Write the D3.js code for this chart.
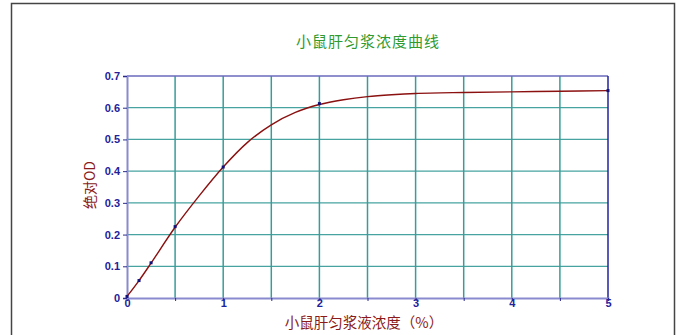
<!DOCTYPE html>
<html lang="zh">
<head>
    <meta charset="utf-8">
    <title>小鼠肝匀浆浓度曲线</title>
    <script src="https://d3js.org/d3.v7.min.js"></script>
    <style>
        body { margin: 0; background: #fff; }
        text { font-family: "Liberation Sans", Arial, sans-serif; }
        .cjk { font-family: "Noto Sans CJK SC", sans-serif; }
    </style>
</head>
<body>
<div id="chart"></div>
<script>
    // Measured points (concentration %, absolute OD)
    const pointX = [0, 0.125, 0.25, 0.5, 1, 2, 5];
    const pointY = [0.005, 0.055, 0.111, 0.225, 0.413, 0.613, 0.654];

    // Fitted curve
    const curveX = [0, 0.125, 0.25, 0.5, 0.75, 1, 1.25, 1.5, 1.75, 2, 2.25, 2.5, 2.75, 3, 3.5, 4, 4.5, 5];
    const curveY = [0.005, 0.055, 0.11, 0.223, 0.322, 0.413, 0.49, 0.546, 0.585, 0.61, 0.625, 0.635, 0.641, 0.645, 0.648, 0.65, 0.652, 0.654];

    const xTicks = [0, 1, 2, 3, 4, 5];
    const xGrid = [0.5, 1, 1.5, 2, 2.5, 3, 3.5, 4, 4.5];
    const yTicks = [0, 0.1, 0.2, 0.3, 0.4, 0.5, 0.6, 0.7];

    const W = 679, H = 335;
    const margin = {top: 76, right: 71, bottom: 37, left: 127};
    const width = W - margin.left - margin.right,
        height = H - margin.top - margin.bottom;

    const svg = d3.select("#chart")
        .append("svg")
        .attr("width", W)
        .attr("height", H);

    // outer frame (bottom edge is cut off)
    svg.append("path")
        .attr("d", `M11.5,${H} V3.5 H674.5 V${H}`)
        .attr("fill", "none")
        .attr("stroke", "#444")
        .attr("stroke-width", 1.5);

    const g = svg.append("g")
        .attr("transform", `translate(${margin.left},${margin.top})`);

    const x = d3.scaleLinear().domain([0, 5]).range([0, width]);
    const y = d3.scaleLinear().domain([0, 0.7]).range([height, 0]);

    // grid
    g.append("g")
        .selectAll("line")
        .data(yTicks.slice(1, -1))
        .join("line")
        .attr("x1", 0).attr("x2", width)
        .attr("y1", d => y(d)).attr("y2", d => y(d))
        .attr("stroke", "#46a3a0")
        .attr("stroke-width", 1.3);
    g.append("g")
        .selectAll("line")
        .data(xGrid)
        .join("line")
        .attr("x1", d => x(d)).attr("x2", d => x(d))
        .attr("y1", 0).attr("y2", height)
        .attr("stroke", "#3a9c98")
        .attr("stroke-width", 1.5);

    // frame of plot
    g.append("line").attr("x1", 0).attr("x2", width).attr("y1", 0).attr("y2", 0)
        .attr("stroke", "#6a6abc").attr("stroke-width", 1.5);
    g.append("line").attr("x1", width).attr("x2", width).attr("y1", 0).attr("y2", height)
        .attr("stroke", "#2222a0").attr("stroke-width", 1.5);

    // axes
    const xAxis = g.append("g")
        .attr("transform", `translate(0,${height})`)
        .call(d3.axisBottom(x).tickValues(xGrid.concat([0, 5])).tickSize(3).tickFormat(d => xTicks.includes(d) ? d : ""));
    const yAxis = g.append("g")
        .call(d3.axisLeft(y).tickValues(yTicks).tickSize(4).tickFormat(d => d === 0 ? "0" : d3.format(".1f")(d)));

    [xAxis, yAxis].forEach(a => {
        a.select(".domain").attr("stroke", "#8a8ad0").attr("stroke-width", 2);
        a.selectAll(".tick line").attr("stroke", "#2a2a90");
        a.selectAll(".tick text")
            .attr("fill", "#22229a")
            .style("font-size", "11px")
            .style("font-weight", "bold");
    });
    xAxis.selectAll(".tick text").attr("y", 1).attr("dy", "0.71em");
    yAxis.selectAll(".tick text").attr("x", -7);

    // curve
    const line = d3.line()
        .x((d, i) => x(curveX[i]))
        .y(d => y(d))
        .curve(d3.curveCatmullRom.alpha(0.5));
    g.append("path")
        .datum(curveY)
        .attr("d", line)
        .attr("fill", "none")
        .attr("stroke", "#8b1010")
        .attr("stroke-width", 1.4);

    // points
    g.append("g")
        .selectAll("rect")
        .data(pointX)
        .join("rect")
        .attr("x", d => x(d) - 1.5)
        .attr("y", (d, i) => y(pointY[i]) - 1.5)
        .attr("width", 3)
        .attr("height", 3)
        .attr("fill", "#10107a");

    // titles
    svg.append("text")
        .attr("class", "cjk")
        .attr("x", 368).attr("y", 47)
        .attr("text-anchor", "middle")
        .attr("fill", "#2f9a2f")
        .style("font-size", "15px")
        .style("letter-spacing", "1px")
        .text("小鼠肝匀浆浓度曲线");

    svg.append("text")
        .attr("class", "cjk")
        .attr("x", 364).attr("y", 328)
        .attr("text-anchor", "middle")
        .attr("fill", "#8b1a1a")
        .style("font-size", "14.5px")
        .text("小鼠肝匀浆液浓度（%）");

    svg.append("text")
        .attr("class", "cjk")
        .attr("transform", "translate(95,185) rotate(-90)")
        .attr("text-anchor", "middle")
        .attr("fill", "#8b1a1a")
        .style("font-size", "14px")
        .text("绝对OD");
</script>
</body>
</html>
